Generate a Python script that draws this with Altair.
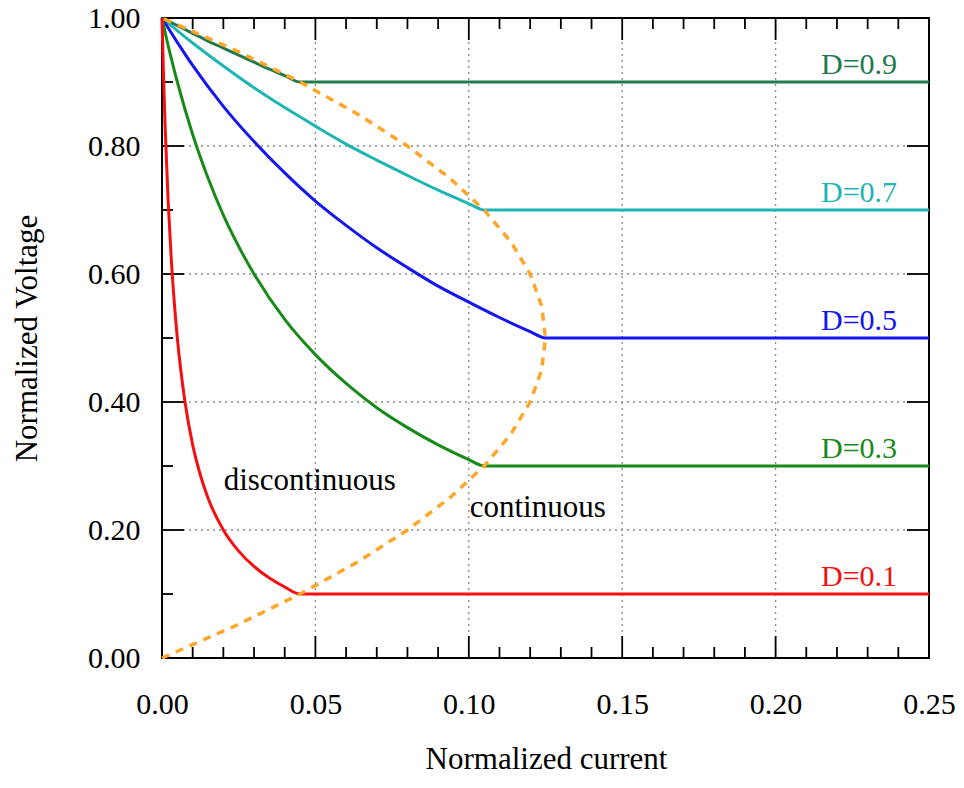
import altair as alt
import pandas as pd

# ---- data ----
d09_x = [0, 0.005, 0.01, 0.015, 0.02, 0.025, 0.03, 0.035, 0.04, 0.045, 0.25]
d09_y = [1.0, 0.988, 0.976, 0.964, 0.953, 0.942, 0.931, 0.920, 0.910, 0.900, 0.900]

d07_x = [0, 0.01, 0.02, 0.03, 0.04, 0.05, 0.06, 0.07, 0.08, 0.09, 0.10, 0.105, 0.25]
d07_y = [1.0, 0.961, 0.925, 0.891, 0.860, 0.831, 0.803, 0.778, 0.754, 0.731, 0.710, 0.700, 0.700]

d05_x = [0, 0.005, 0.01, 0.02, 0.03, 0.04, 0.05, 0.06, 0.07, 0.08, 0.09, 0.10, 0.11, 0.12, 0.125, 0.25]
d05_y = [1.0, 0.962, 0.926, 0.862, 0.807, 0.758, 0.714, 0.676, 0.641, 0.610, 0.581, 0.556, 0.532, 0.510, 0.500, 0.500]

d03_x = [0, 0.002, 0.005, 0.01, 0.015, 0.02, 0.025, 0.03, 0.04, 0.05, 0.06, 0.07, 0.08, 0.09, 0.10, 0.105, 0.25]
d03_y = [1.0, 0.957, 0.900, 0.818, 0.750, 0.692, 0.643, 0.600, 0.529, 0.474, 0.429, 0.391, 0.360, 0.333, 0.310, 0.300, 0.300]

d01_x = [0, 0.0005, 0.001, 0.002, 0.003, 0.004, 0.005, 0.0075, 0.01, 0.0125, 0.015, 0.02, 0.025, 0.03, 0.035, 0.04, 0.045, 0.25]
d01_y = [1.0, 0.909, 0.833, 0.714, 0.625, 0.556, 0.500, 0.400, 0.333, 0.286, 0.250, 0.200, 0.167, 0.143, 0.125, 0.111, 0.100, 0.100]

bound_x = [0, 0.0119, 0.02375, 0.0344, 0.045, 0.06375, 0.08, 0.09375, 0.105, 0.11375, 0.12, 0.12375, 0.125,
           0.12375, 0.12, 0.11375, 0.105, 0.09375, 0.08, 0.06375, 0.045, 0.0344, 0.02375, 0.0119, 0]
bound_y = [0, 0.025, 0.05, 0.075, 0.10, 0.15, 0.20, 0.25, 0.30, 0.35, 0.40, 0.45, 0.50,
           0.55, 0.60, 0.65, 0.70, 0.75, 0.80, 0.85, 0.90, 0.925, 0.95, 0.975, 1.0]

series_names = ["D=0.9", "D=0.7", "D=0.5", "D=0.3", "D=0.1"]
series_levels = [0.9, 0.7, 0.5, 0.3, 0.1]
series_colors = ["#207a4e", "#1fb5b5", "#1515ee", "#188a18", "#f41010"]
boundary_color = "#ffa52a"

x_major = [0, 0.05, 0.10, 0.15, 0.20, 0.25]
x_minor = [0.01, 0.02, 0.03, 0.04, 0.06, 0.07, 0.08, 0.09, 0.11, 0.12, 0.13, 0.14,
           0.16, 0.17, 0.18, 0.19, 0.21, 0.22, 0.23, 0.24]
y_major = [0, 0.2, 0.4, 0.6, 0.8, 1.0]
y_minor = [0.1, 0.3, 0.5, 0.7, 0.9]
x_grid = [0.05, 0.10, 0.15, 0.20]
y_grid = [0.2, 0.4, 0.6, 0.8]

note_texts = ["discontinuous", "continuous"]
note_x = [0.0201, 0.1003]
note_y = [0.262, 0.221]
label_x = 0.2396

# ---- build tables ----
rows = []
for name, xs_, ys_ in zip(series_names, [d09_x, d07_x, d05_x, d03_x, d01_x],
                          [d09_y, d07_y, d05_y, d03_y, d01_y]):
    for i, (a, b) in enumerate(zip(xs_, ys_)):
        rows.append({"series": name, "x": a, "y": b, "idx": i})
curves = pd.DataFrame(rows)
boundary = pd.DataFrame({"x": bound_x, "y": bound_y, "idx": list(range(len(bound_x)))})
labels = pd.DataFrame({"series": series_names, "y": series_levels, "x": [label_x] * 5})
notes = pd.DataFrame({"t": note_texts, "x": note_x, "y": note_y})

W, H = 767, 640
FONT = "Liberation Serif"

xs = alt.Scale(domain=[0, 0.25], nice=False, zero=False)
ys = alt.Scale(domain=[0, 1], nice=False, zero=False)
color = alt.Color("series:N", scale=alt.Scale(domain=series_names, range=series_colors), legend=None)

x_axis = alt.Axis(values=x_major, format=".2f", grid=False, ticks=False, tickSize=0, domain=False,
                  labelFont=FONT, labelFontSize=30, labelColor="black", labelPadding=31,
                  labelFlush=False, labelOverlap=False,
                  title="Normalized current", titleFont=FONT, titleFontSize=31,
                  titleFontWeight="normal", titleColor="black", titleX=384, titleY=110,
                  titleBaseline="alphabetic", titleAlign="center")
y_axis = alt.Axis(values=y_major, format=".2f", grid=False, ticks=False, tickSize=0, domain=False,
                  labelFont=FONT, labelFontSize=30, labelColor="black", labelPadding=22,
                  labelFlush=False, labelOverlap=False,
                  title="Normalized Voltage", titleFont=FONT, titleFontSize=31,
                  titleFontWeight="normal", titleColor="black", titleX=-126, titleY=320,
                  titleAngle=270, titleBaseline="alphabetic", titleAlign="center")

grid_x = alt.Chart(pd.DataFrame({"v": x_grid})).mark_rule(
    color="#8a8a8a", strokeWidth=1.3, strokeDash=[2, 4]).encode(
    x=alt.X("v:Q", scale=xs, axis=x_axis))
grid_y = alt.Chart(pd.DataFrame({"v": y_grid})).mark_rule(
    color="#8a8a8a", strokeWidth=1.3, strokeDash=[2, 4]).encode(
    y=alt.Y("v:Q", scale=ys, axis=y_axis))

TW = 1.8
def xticks(vals, length):
    df = pd.DataFrame({"v": vals})
    bot = alt.Chart(df).mark_rule(color="black", strokeWidth=TW).encode(
        x=alt.X("v:Q", scale=xs), y=alt.value(H), y2=alt.value(H - length))
    top = alt.Chart(df).mark_rule(color="black", strokeWidth=TW).encode(
        x=alt.X("v:Q", scale=xs), y=alt.value(0), y2=alt.value(length))
    return [bot, top]

def yticks(vals, length):
    df = pd.DataFrame({"v": vals})
    left = alt.Chart(df).mark_rule(color="black", strokeWidth=TW).encode(
        y=alt.Y("v:Q", scale=ys), x=alt.value(0), x2=alt.value(length))
    right = alt.Chart(df).mark_rule(color="black", strokeWidth=TW).encode(
        y=alt.Y("v:Q", scale=ys), x=alt.value(W), x2=alt.value(W - length))
    return [left, right]

ticks = xticks(x_major, 22) + xticks(x_minor, 11) + yticks(y_major, 22) + yticks(y_minor, 11)

lines = alt.Chart(curves).mark_line(strokeWidth=3, interpolate="monotone").encode(
    x=alt.X("x:Q", scale=xs), y=alt.Y("y:Q", scale=ys), color=color,
    detail="series:N", order="idx:Q")

bound = alt.Chart(boundary).mark_line(strokeWidth=3.5, strokeDash=[8, 7],
                                      color=boundary_color).encode(
    x=alt.X("x:Q", scale=xs), y=alt.Y("y:Q", scale=ys), order="idx:Q")

label_text = alt.Chart(labels).mark_text(align="right", baseline="alphabetic", dy=-8.5,
                                         font=FONT, fontSize=30).encode(
    x=alt.X("x:Q", scale=xs), y=alt.Y("y:Q", scale=ys), text="series:N", color=color)

note_text = alt.Chart(notes).mark_text(align="left", baseline="alphabetic",
                                       font=FONT, fontSize=31, color="black").encode(
    x=alt.X("x:Q", scale=xs), y=alt.Y("y:Q", scale=ys), text="t:N")

chart = alt.layer(grid_x, grid_y, *ticks, lines, bound, label_text, note_text).properties(
    width=W, height=H,
    padding={"left": 154, "top": 10, "right": 27, "bottom": 116},
    autosize=alt.AutoSizeParams(type="none"),
    background="white",
).configure_view(stroke="black", strokeWidth=2)

chart.save("out.html", embed_options={"renderer": "svg", "actions": False})
